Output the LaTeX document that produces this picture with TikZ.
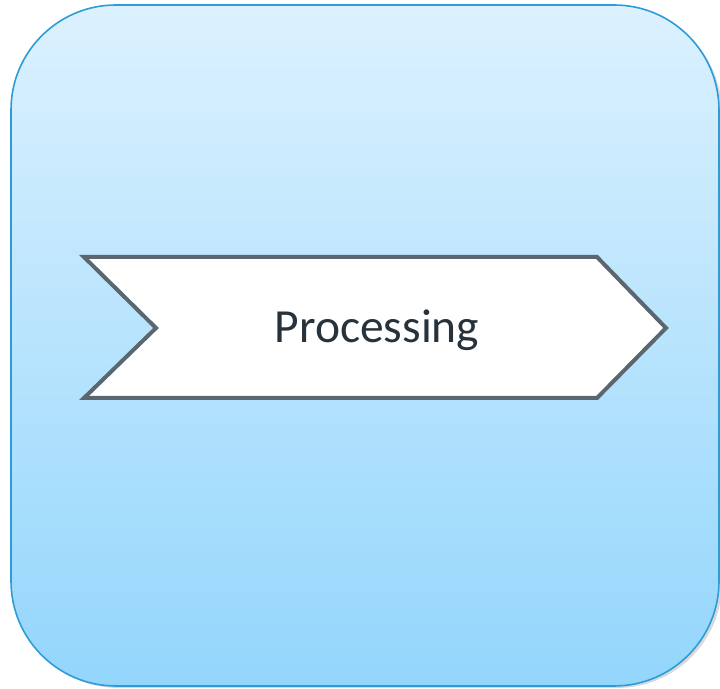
\documentclass[tikz,border=0pt]{standalone}
\usepackage{fontspec}
\setmainfont{Carlito}
\definecolor{boxtop}{RGB}{220,241,254}
\definecolor{boxbot}{RGB}{147,214,252}
\definecolor{boxline}{RGB}{46,156,216}
\definecolor{chevline}{RGB}{90,103,112}
\definecolor{txt}{RGB}{40,50,58}
\tikzset{
  outerbox/.style={draw=boxline, line width=1.6pt, rounded corners=105pt, top color=boxtop, bottom color=boxbot},
  chev/.style={draw=chevline, line width=4pt, fill=white, line join=miter},
  lbl/.style={text=txt, font=\fontsize{47.5}{54}\selectfont, inner sep=0pt}
}
\begin{document}
\begin{tikzpicture}[x=1pt,y=1pt]
\useasboundingbox (0,0) rectangle (720,688);
% shadow
\fill[black, opacity=0.15, rounded corners=105pt] (14,0) rectangle (722,680);
\path[outerbox] (11,2) rectangle (719,683);
\path[chev] (84,431) -- (597,431) -- (666,360) -- (597,290) -- (84,290) -- (156,360) -- cycle;
\node[lbl] (p) at (377,358) {Processing};
\end{tikzpicture}
\end{document}
